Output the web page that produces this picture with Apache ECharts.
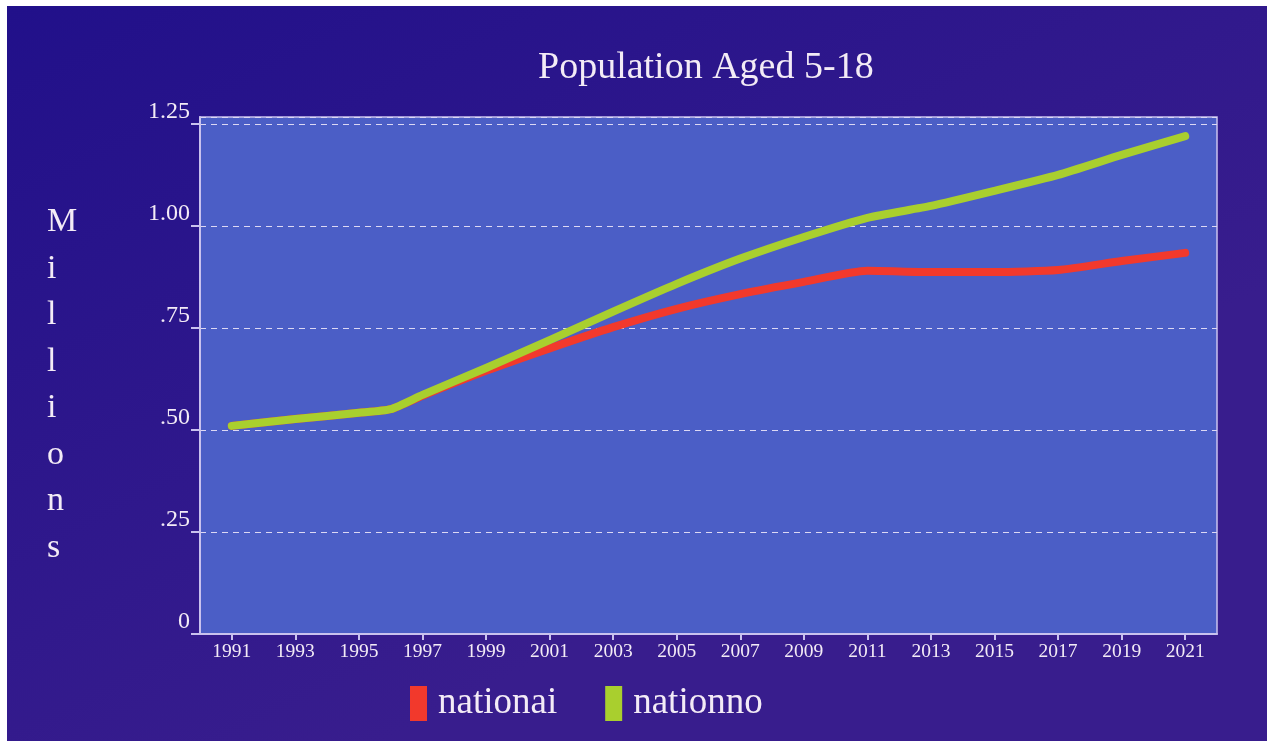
<!DOCTYPE html>
<html>
<head>
<meta charset="utf-8">
<script src="https://cdn.jsdelivr.net/npm/echarts@6/dist/echarts.min.js"></script>
<style>
  html, body { margin: 0; padding: 0; background: #ffffff; }
  #chart { position: absolute; left: 7px; top: 6px; width: 1260px; height: 735px; }
</style>
</head>
<body>
<div id="chart"></div>
<script>
// School-age population, millions
const years    = [1991, 1993, 1995, 1996, 1997, 1999, 2001, 2003, 2005, 2007, 2009, 2011, 2013, 2015, 2017, 2019, 2021];
const nationai = [0.510, 0.527, 0.542, 0.551, 0.584, 0.645, 0.700, 0.752, 0.797, 0.833, 0.863, 0.890, 0.887, 0.887, 0.892, 0.914, 0.934];
const nationno = [0.510, 0.527, 0.542, 0.551, 0.586, 0.652, 0.720, 0.790, 0.858, 0.920, 0.973, 1.020, 1.049, 1.086, 1.125, 1.174, 1.220];
const xTickYears = [1991, 1993, 1995, 1997, 1999, 2001, 2003, 2005, 2007, 2009, 2011, 2013, 2015, 2017, 2019, 2021];
const seriesNames = ['nationai', 'nationno'];

const serif = '"Liberation Serif", "DejaVu Serif", serif';
const textColor = '#f3ebf6';
const frameColor = '#c9c2ee';

const chart = echarts.init(document.getElementById('chart'));

function pairs(vals) {
  return years.map((y, i) => [y, vals[i]]);
}

chart.setOption({
  backgroundColor: {
    type: 'linear', x: 0, y: 0, x2: 0.3, y2: 1,
    colorStops: [
      { offset: 0, color: '#21108a' },
      { offset: 1, color: '#381d8d' }
    ]
  },
  title: {
    text: 'Population Aged 5-18',
    left: 526, top: 38,
    textStyle: { fontFamily: serif, fontSize: 38, fontWeight: 'normal', color: textColor }
  },
  graphic: [{
    type: 'text',
    left: 40, top: 193,
    style: {
      text: 'M\ni\nl\nl\ni\no\nn\ns',
      fontFamily: serif, fontSize: 34, lineHeight: 46.5,
      fill: textColor, align: 'center'
    }
  }],
  legend: {
    data: seriesNames,
    left: 398, top: 674,
    icon: 'rect',
    itemWidth: 17, itemHeight: 35, itemGap: 48,
    textStyle: { fontFamily: serif, fontSize: 37, color: textColor, padding: [0, 0, 0, 6] }
  },
  grid: {
    left: 193, top: 111, right: 50, bottom: 107,
    show: true,
    backgroundColor: '#4b5ec6',
    borderColor: frameColor, borderWidth: 1.5
  },
  xAxis: {
    type: 'value',
    min: 1990, max: 2022,
    axisLine: { show: true, onZero: false, lineStyle: { color: frameColor, width: 2 } },
    axisTick: { show: true, customValues: xTickYears, length: 6, lineStyle: { color: frameColor, width: 2 } },
    axisLabel: {
      customValues: xTickYears,
      fontFamily: serif, fontSize: 19.5, color: textColor, margin: 8,
      formatter: v => String(v)
    },
    splitLine: { show: false }
  },
  yAxis: {
    type: 'value',
    min: 0, max: 1.267, interval: 0.25,
    axisLine: { show: true, lineStyle: { color: frameColor, width: 2 } },
    axisTick: { show: true, length: 9, lineStyle: { color: frameColor, width: 2 } },
    axisLabel: {
      fontFamily: serif, fontSize: 24, color: textColor, margin: 10,
      verticalAlign: 'bottom',
      formatter: v => {
        if (v === 0) return '0';
        const s = v.toFixed(2);
        return v < 1 ? s.replace(/^0/, '') : s;
      }
    },
    splitLine: { show: true, lineStyle: { color: '#dcd8f4', type: [6, 5], width: 1.2 } }
  },
  series: [
    {
      name: 'nationai', type: 'line', data: pairs(nationai),
      smooth: 0.2, showSymbol: false, z: 2,
      lineStyle: { color: '#f2392c', width: 8, cap: 'round', join: 'round' },
      itemStyle: { color: '#f2392c' }
    },
    {
      name: 'nationno', type: 'line', data: pairs(nationno),
      smooth: 0.2, showSymbol: false, z: 3,
      lineStyle: { color: '#a9cf2e', width: 8, cap: 'round', join: 'round' },
      itemStyle: { color: '#a9cf2e' }
    }
  ]
});
</script>
</body>
</html>
